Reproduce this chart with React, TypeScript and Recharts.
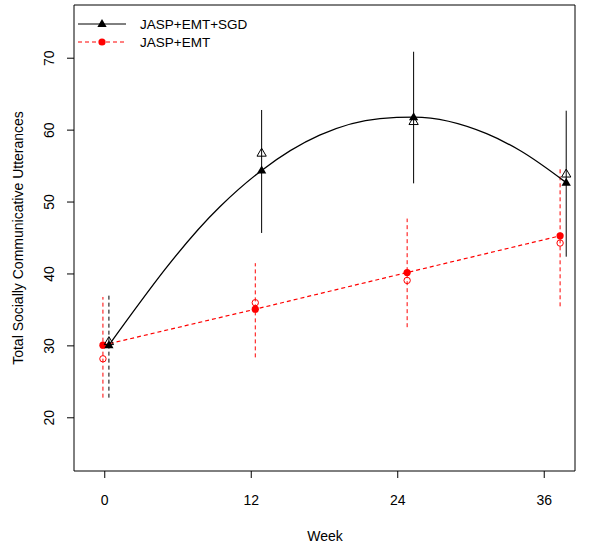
import { ComposedChart, Line, XAxis, YAxis, ReferenceArea, Label } from "recharts";

// weeks, with the small horizontal offsets used in the original figure
const weekTicks = [0, 12, 24, 36];
const yTicks = [20, 30, 40, 50, 60, 70];
const sgdX = [0.34, 12.85, 25.3, 37.8];
const emtX = [-0.15, 12.33, 24.77, 37.3];

// JASP+EMT+SGD
const sgdFitted = [30.1, 54.4, 61.8, 52.7];
const sgdObserved = [30.6, 56.8, 61.2, 53.9];
const sgdLow = [22.8, 45.7, 52.6, 42.4];
const sgdHigh = [37.1, 62.8, 70.9, 62.7];
// fitted curve
const sgdCurveX = [0.34, 9.43, 12.85, 17.6, 22.54, 25.3, 31.28, 33.98, 37.8];
const sgdCurveY = [30.1, 49.35, 54.4, 59.3, 61.6, 61.8, 59.5, 57.2, 52.7];

// JASP+EMT
const emtFitted = [30.1, 35.1, 40.2, 45.3];
const emtObserved = [28.2, 36.0, 39.1, 44.3];
const emtLow = [22.8, 28.4, 32.6, 35.5];
const emtHigh = [36.8, 41.5, 47.7, 54.7];

const FONT = '"Liberation Sans", Arial, Helvetica, sans-serif';
const RED = "#ff0000";

const toPts = (xs: number[], ys: number[]) => xs.map((x, i) => ({ x, y: ys[i] }));

const tri = (cx: number, cy: number, s: number) =>
  `M${cx},${cy - s * 0.62} L${cx + s * 0.58},${cy + s * 0.38} L${cx - s * 0.58},${cy + s * 0.38} Z`;

function FilledTriangle(p: any) {
  if (p.cx == null) return null;
  return <path key={p.index} d={tri(p.cx, p.cy, 8)} fill="#000" stroke="none" />;
}
function OpenTriangle(p: any) {
  if (p.cx == null) return null;
  return <path key={p.index} d={tri(p.cx, p.cy, 8)} fill="none" stroke="#000" strokeWidth={1} />;
}
function FilledCircle(p: any) {
  if (p.cx == null) return null;
  return <circle key={p.index} cx={p.cx} cy={p.cy} r={3.6} fill={RED} stroke="none" />;
}
function OpenCircle(p: any) {
  if (p.cx == null) return null;
  return <circle key={p.index} cx={p.cx} cy={p.cy} r={3.2} fill="none" stroke={RED} strokeWidth={1} />;
}

function XTick({ x, payload }: any) {
  return (
    <text x={x} y={500} textAnchor="middle" dominantBaseline="central" fontFamily={FONT} fontSize={14} fill="#000">
      {payload.value}
    </text>
  );
}
function YTick({ y, payload }: any) {
  return (
    <text x={49} y={y} transform={`rotate(-90 49 ${y})`} textAnchor="middle" dominantBaseline="central" fontFamily={FONT} fontSize={14} fill="#000">
      {payload.value}
    </text>
  );
}

export default function App() {
  return (
    <div style={{ position: "absolute", left: 0, top: 0, width: 601, height: 547, background: "#fff" }}>
      <ComposedChart width={601} height={547} margin={{ top: 5, right: 26, bottom: 0, left: 0 }}>
        <XAxis
          type="number"
          dataKey="x"
          domain={[-2.52, 38.52]}
          allowDataOverflow
          ticks={weekTicks}
          tick={<XTick />}
          tickSize={7}
          tickLine={{ stroke: "#000" }}
          axisLine={false}
          height={76}
        >
          <Label
            content={() => (
              <text x={325} y={536} textAnchor="middle" dominantBaseline="central" fontFamily={FONT} fontSize={14} fill="#000">
                Week
              </text>
            )}
          />
        </XAxis>
        <YAxis
          type="number"
          dataKey="y"
          domain={[12.6, 77.4]}
          allowDataOverflow
          ticks={yTicks}
          tick={<YTick />}
          tickSize={7}
          tickLine={{ stroke: "#000" }}
          axisLine={false}
          width={74}
        >
          <Label
            content={() => (
              <text x={18} y={238} transform="rotate(-90 18 238)" textAnchor="middle" dominantBaseline="central" fontFamily={FONT} fontSize={14} fill="#000">
                Total Socially Communicative Utterances
              </text>
            )}
          />
        </YAxis>
        <ReferenceArea x1={-2.52} x2={38.52} y1={12.6} y2={77.4} fill="none" stroke="#000" strokeWidth={1} />

        {emtX.map((x, i) => (
          <Line
            key={`emt-err-${i}`}
            data={[{ x, y: emtLow[i] }, { x, y: emtHigh[i] }]}
            dataKey="y"
            stroke={RED}
            strokeWidth={1}
            strokeDasharray="4 3"
            dot={false}
            activeDot={false}
            isAnimationActive={false}
          />
        ))}
        {sgdX.map((x, i) => (
          <Line
            key={`sgd-err-${i}`}
            data={[{ x, y: sgdLow[i] }, { x, y: sgdHigh[i] }]}
            dataKey="y"
            stroke="#000"
            strokeWidth={1}
            strokeDasharray={i === 0 ? "4 3" : undefined}
            dot={false}
            activeDot={false}
            isAnimationActive={false}
          />
        ))}

        <Line
          data={toPts(emtX, emtFitted)}
          dataKey="y"
          type="linear"
          stroke={RED}
          strokeWidth={1.2}
          strokeDasharray="4 3"
          dot={<FilledCircle />}
          activeDot={false}
          isAnimationActive={false}
        />
        <Line
          data={toPts(emtX, emtObserved)}
          dataKey="y"
          stroke="none"
          dot={<OpenCircle />}
          activeDot={false}
          isAnimationActive={false}
        />
        <Line
          data={toPts(sgdCurveX, sgdCurveY)}
          dataKey="y"
          type="monotoneX"
          stroke="#000"
          strokeWidth={1.3}
          dot={false}
          activeDot={false}
          isAnimationActive={false}
        />
        <Line
          data={toPts(sgdX, sgdObserved)}
          dataKey="y"
          stroke="none"
          dot={<OpenTriangle />}
          activeDot={false}
          isAnimationActive={false}
        />
        <Line
          data={toPts(sgdX, sgdFitted)}
          dataKey="y"
          stroke="none"
          dot={<FilledTriangle />}
          activeDot={false}
          isAnimationActive={false}
        />
      </ComposedChart>

      <svg width={601} height={60} style={{ position: "absolute", left: 0, top: 0, pointerEvents: "none" }}>
        <line x1={78} y1={24} x2={126} y2={24} stroke="#000" strokeWidth={1} />
        <path d={tri(102, 24, 8)} fill="#000" />
        <text x={140} y={24} dominantBaseline="central" fontFamily={FONT} fontSize={13.5} fill="#000">
          JASP+EMT+SGD
        </text>
        <line x1={78} y1={42} x2={126} y2={42} stroke={RED} strokeWidth={1} strokeDasharray="4 3" />
        <circle cx={102} cy={42} r={3.6} fill={RED} />
        <text x={140} y={42} dominantBaseline="central" fontFamily={FONT} fontSize={13.5} fill="#000">
          JASP+EMT
        </text>
      </svg>
    </div>
  );
}
